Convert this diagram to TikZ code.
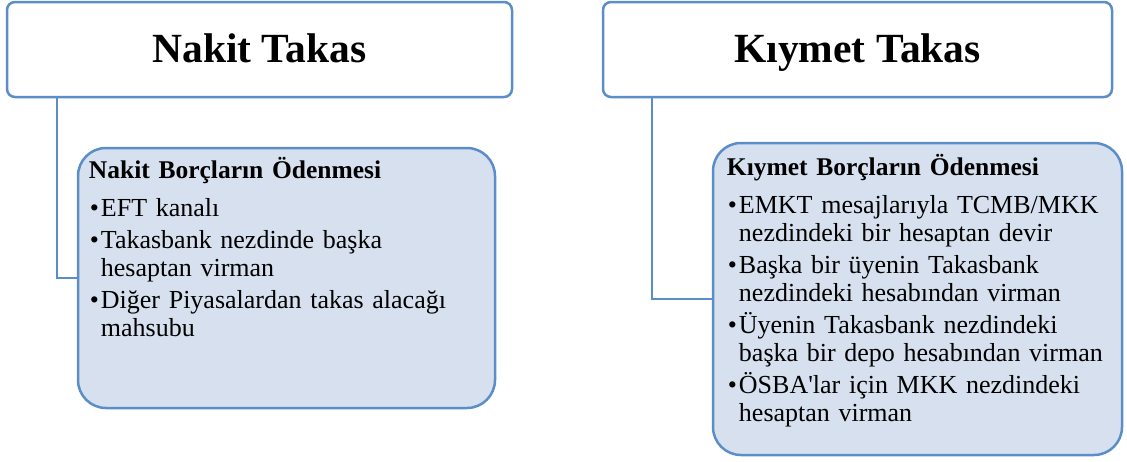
\documentclass[tikz,border=0pt]{standalone}
\usepackage{fontspec}
\setmainfont{Liberation Serif}
\newfontfamily\duzfont{Liberation Serif}[Ligatures=TeXOff]
\definecolor{kenar}{RGB}{91,142,200}
\definecolor{dolgu}{RGB}{214,224,238}
\newcommand{\madde}[1]{\par\hangindent=12pt\hangafter=1\noindent\makebox[12pt][l]{\hspace{1pt}•}#1\par}
\newcommand{\satir}{\hfil\break}
\tikzset{
  baslik/.style={draw=kenar,line width=2.5pt,rounded corners=8pt,fill=white,
    text height=25pt,text depth=0pt,font=\fontsize{41.5}{48}\selectfont\bfseries},
  altkutu/.style={draw=kenar,line width=2.5pt,rounded corners=28pt,fill=dolgu},
  metin/.style={anchor=north west,inner sep=0pt,text width=395pt,align=left,
    font=\fontsize{26}{28}\selectfont\setlength{\parskip}{4pt}},
  baglanti/.style={draw=kenar,line width=2.5pt}
}
\begin{document}
\begin{tikzpicture}[x=1pt,y=-1pt]
\useasboundingbox (0,0) rectangle (1127,461);
% ust kutular
\node[baslik,minimum width=505pt,minimum height=95pt] (nakit) at (259.5,49.5) {Nakit Takas};
\node[baslik,minimum width=509pt,minimum height=95pt] (kiymet) at (857.5,49.5) {Kıymet Takas};
% alt kutular
\node[altkutu,minimum width=417pt,minimum height=260pt] (nakitalt) at (286.5,278) {};
\node[altkutu,minimum width=409pt,minimum height=312pt] (kiymetalt) at (917.5,299) {};
\draw[baglanti] ([xshift=51pt]nakit.south west) |- (nakitalt.west);
\draw[baglanti] ([xshift=50pt]kiymet.south west) |- (kiymetalt.west);
\node[metin] (nakitmetin) at ([xshift=12pt,yshift=-8pt]nakitalt.north west)
  {\rule{0pt}{24pt}{\fontsize{25.5}{28}\selectfont\bfseries Nakit Borçların Ödenmesi}\par\vspace{6pt}
   \madde{EFT kanalı}
   \madde{Takasbank nezdinde başka\satir hesaptan virman}
   \madde{Diğer Piyasalardan takas alacağı\satir mahsubu}};
\node[metin] (kiymetmetin) at ([xshift=15pt,yshift=-10pt]kiymetalt.north west)
  {\rule{0pt}{24pt}{\fontsize{25.5}{28}\selectfont\bfseries Kıymet Borçların Ödenmesi}\par\vspace{6pt}
   \madde{EMKT mesajlarıyla TCMB/MKK\satir nezdindeki bir hesaptan devir}
   \madde{Başka bir üyenin Takasbank\satir nezdindeki hesabından virman}
   \madde{Üyenin Takasbank nezdindeki\satir başka bir depo hesabından virman}
   \madde{ÖSBA{\duzfont'}lar için MKK nezdindeki\satir hesaptan virman}};
\end{tikzpicture}
\end{document}
